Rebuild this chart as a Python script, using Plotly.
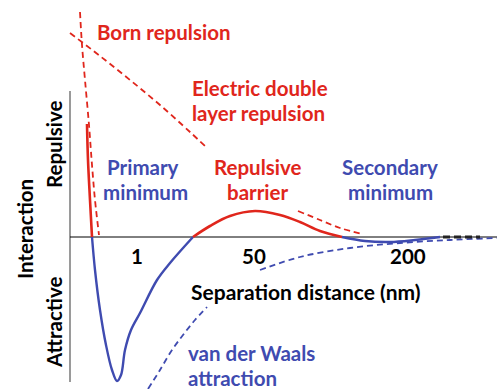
import plotly.graph_objects as go

RED = "#E0261C"
BLUE = "#3F4BB0"
FONT = "Lato"

# Schematic DLVO curves (x: separation, schematic units; y: interaction energy, schematic units)
born_x = [80, 82, 85, 89, 92, 95, 99]
born_y = [225, 192, 157, 112, 72, 37, 2]

edl_x = [70, 100, 130, 160, 190, 205, None, 298, 320, 340, 362]
edl_y = [204, 181, 157, 132, 105, 91, None, 26, 17, 9, 3]

vdw_x = [148, 160, 172, 183, 195, 207, None, 260, 300, 350, 400, 450, 497]
vdw_y = [-152, -133, -113, -98, -83, -70, None, -33, -20, -11, -6, -3, -1]

total_rep1_x = [87, 88, 90, 92]
total_rep1_y = [113, 77, 37, 0]
total_att1_x = [92, 95, 100, 106, 112, 117, 121, 125, 131, 140, 157, 170, 193]
total_att1_y = [0, -33, -73, -108, -133, -144, -138, -113, -93, -76, -43, -26, 0]
total_rep2_x = [193, 210, 230, 255, 280, 300, 320, 342]
total_rep2_y = [0, 11, 21, 26, 22, 15, 6, 0]
total_att2_x = [342, 365, 390, 415, 440]
total_att2_y = [0, -4, -5, -3, 0]
tail_x = [443, 480]
tail_y = [0, 0]

tick_vals = [137, 254, 408]
tick_text = ["1", "50", "200"]

fig = go.Figure()

# axes drawn as lines
fig.add_trace(go.Scatter(x=[70, 70], y=[146, -145], mode="lines",
                         line=dict(color="#9a9a9a", width=2), hoverinfo="skip"))
fig.add_trace(go.Scatter(x=[70, 497], y=[0, 0], mode="lines",
                         line=dict(color="black", width=1), hoverinfo="skip"))

dash = "6px,4px"
fig.add_trace(go.Scatter(x=born_x, y=born_y, mode="lines", line=dict(color=RED, width=1.8, dash=dash, shape="spline")))
fig.add_trace(go.Scatter(x=edl_x, y=edl_y, mode="lines", line=dict(color=RED, width=1.8, dash=dash, shape="spline")))
fig.add_trace(go.Scatter(x=vdw_x, y=vdw_y, mode="lines", line=dict(color=BLUE, width=1.8, dash=dash, shape="spline")))

fig.add_trace(go.Scatter(x=total_rep1_x, y=total_rep1_y, mode="lines", line=dict(color=RED, width=2.6, shape="spline")))
fig.add_trace(go.Scatter(x=total_att1_x, y=total_att1_y, mode="lines", line=dict(color=BLUE, width=2.4, shape="spline")))
fig.add_trace(go.Scatter(x=total_rep2_x, y=total_rep2_y, mode="lines", line=dict(color=RED, width=2.6, shape="spline")))
fig.add_trace(go.Scatter(x=total_att2_x, y=total_att2_y, mode="lines", line=dict(color=BLUE, width=2.4, shape="spline")))
fig.add_trace(go.Scatter(x=tail_x, y=tail_y, mode="lines", line=dict(color="#222222", width=3, dash="7px,4px")))

SIZE = 20.5

def lab(text, x, py, color, xanchor="center", size=SIZE, angle=0):
    fig.add_annotation(x=x, y=237 - py, text=f"<b>{text}</b>", showarrow=False,
                       xanchor=xanchor, yanchor="middle", textangle=angle,
                       font=dict(family=FONT, size=size, color=color))

lab("Born repulsion", 95, 32, RED, "left")
lab("Electric double", 190, 88, RED, "left")
lab("layer repulsion", 190, 113, RED, "left")
lab("Primary", 143, 167, BLUE)
lab("minimum", 145, 192, BLUE)
lab("Repulsive", 257, 167, RED)
lab("barrier", 257, 192, RED)
lab("Secondary", 390, 167, BLUE)
lab("minimum", 390, 192, BLUE)
lab("Separation distance (nm)", 306, 291, "black", size=21)
lab("van der Waals", 186, 353, BLUE, "left")
lab("attraction", 186, 378, BLUE, "left")
lab("Interaction", 25, 229, "black", angle=-90)
lab("Repulsive", 54, 145, "black", angle=-90)
lab("Attractive", 54, 322, "black", angle=-90)

for v, t in zip(tick_vals, tick_text):
    lab(t, v, 256, "black")

fig.update_layout(
    width=497, height=389,
    margin=dict(l=0, r=0, t=0, b=0),
    paper_bgcolor="white", plot_bgcolor="white",
    showlegend=False,
    xaxis=dict(range=[0, 497], visible=False, fixedrange=True),
    yaxis=dict(range=[-152, 237], visible=False, fixedrange=True),
)

fig.write_html("out.html", config={"displayModeBar": False},
               post_script="document.body.style.margin='0';")
